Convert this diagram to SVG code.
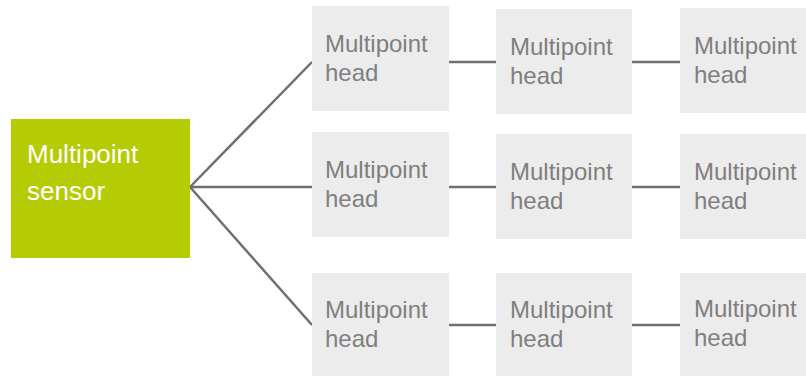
<svg xmlns="http://www.w3.org/2000/svg" width="806" height="376" viewBox="0 0 806 376">
<style>
.head{fill:#ececec}
.ht{font-family:"Liberation Sans",Arial,sans-serif;font-size:24px;fill:#7f7f7f}
.st{font-family:"Liberation Sans",Arial,sans-serif;font-size:26px;fill:#ffffff}
.c{stroke:#6f6f6f;stroke-width:2.5;fill:none}
</style>
<rect width="806" height="376" fill="#ffffff"/>
<g id="connectors">
<line class="c" x1="190" y1="187" x2="312" y2="62"/>
<line class="c" x1="190" y1="187" x2="312" y2="187"/>
<line class="c" x1="190" y1="187" x2="312" y2="325"/>
<line class="c" x1="449" y1="62" x2="496" y2="62"/>
<line class="c" x1="632" y1="62" x2="680" y2="62"/>
<line class="c" x1="449" y1="187" x2="496" y2="187"/>
<line class="c" x1="632" y1="187" x2="680" y2="187"/>
<line class="c" x1="449" y1="325" x2="496" y2="325"/>
<line class="c" x1="632" y1="325" x2="680" y2="325"/>
</g>
<g id="sensor">
<rect x="11" y="119" width="179" height="139" fill="#b5cc04"/>
<text class="st" x="27" y="163">Multipoint</text>
<text class="st" x="27" y="200">sensor</text>
</g>
<g id="head-1-1">
<rect class="head" x="312" y="6" width="137" height="105"/>
<text class="ht" x="325" y="52">Multipoint</text>
<text class="ht" x="325" y="81">head</text>
</g>
<g id="head-1-2">
<rect class="head" x="496" y="9" width="136" height="105"/>
<text class="ht" x="510" y="55">Multipoint</text>
<text class="ht" x="510" y="84">head</text>
</g>
<g id="head-1-3">
<rect class="head" x="680" y="8" width="126" height="105"/>
<text class="ht" x="694" y="54">Multipoint</text>
<text class="ht" x="694" y="83">head</text>
</g>
<g id="head-2-1">
<rect class="head" x="312" y="132" width="137" height="105"/>
<text class="ht" x="325" y="178">Multipoint</text>
<text class="ht" x="325" y="207">head</text>
</g>
<g id="head-2-2">
<rect class="head" x="496" y="134" width="136" height="105"/>
<text class="ht" x="510" y="180">Multipoint</text>
<text class="ht" x="510" y="209">head</text>
</g>
<g id="head-2-3">
<rect class="head" x="680" y="134" width="126" height="105"/>
<text class="ht" x="694" y="180">Multipoint</text>
<text class="ht" x="694" y="209">head</text>
</g>
<g id="head-3-1">
<rect class="head" x="312" y="273" width="137" height="104"/>
<text class="ht" x="325" y="318">Multipoint</text>
<text class="ht" x="325" y="347">head</text>
</g>
<g id="head-3-2">
<rect class="head" x="496" y="273" width="136" height="104"/>
<text class="ht" x="510" y="318">Multipoint</text>
<text class="ht" x="510" y="347">head</text>
</g>
<g id="head-3-3">
<rect class="head" x="680" y="273" width="126" height="104"/>
<text class="ht" x="694" y="317">Multipoint</text>
<text class="ht" x="694" y="346">head</text>
</g>
</svg>
